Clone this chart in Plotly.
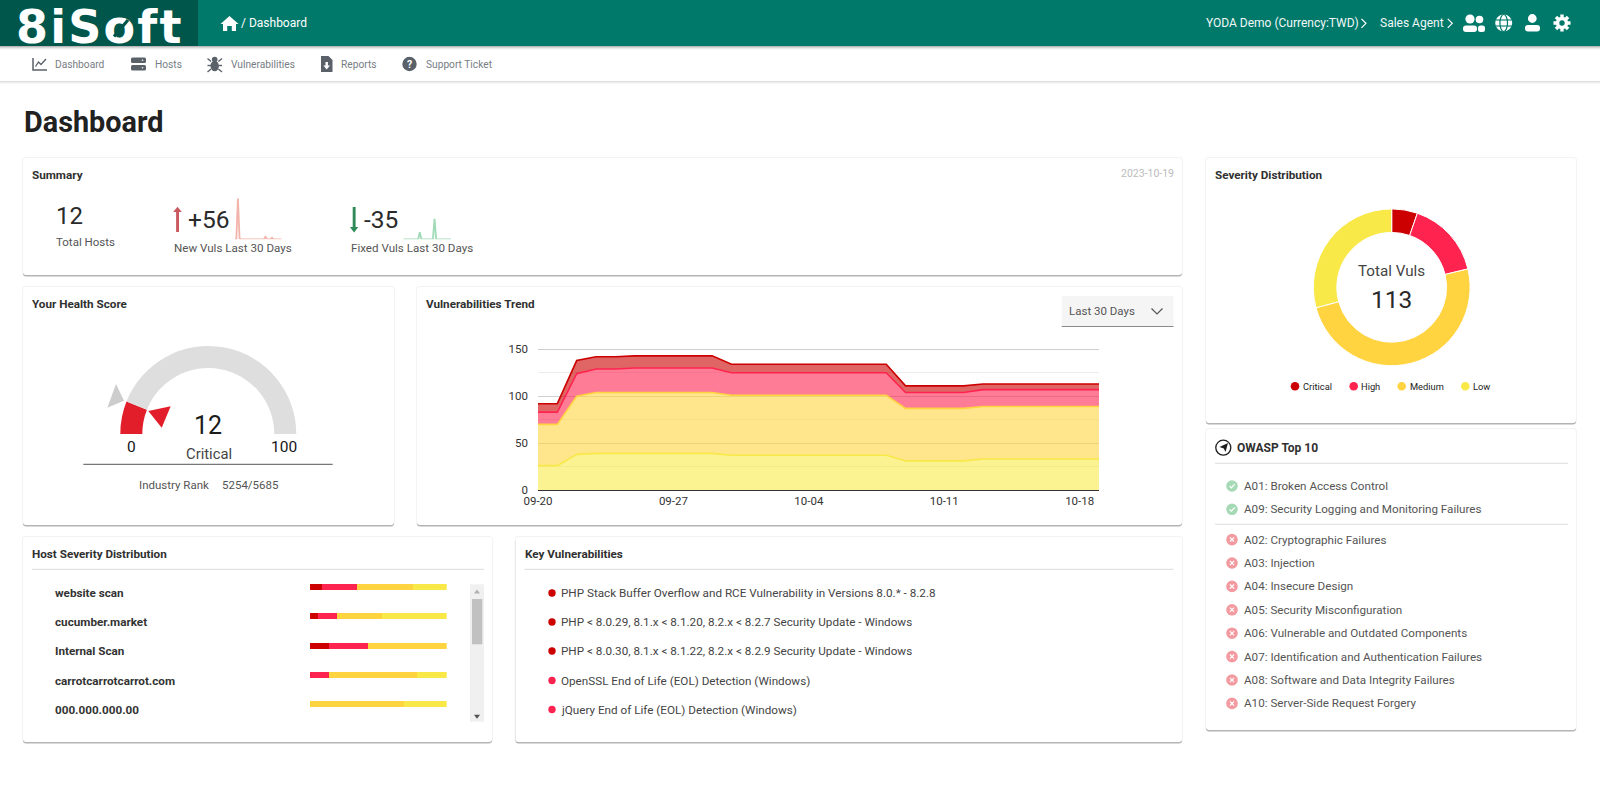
import math
import plotly.graph_objects as go

W, H = 1600, 803
FONT = "Roboto"

# ---------- data ----------
severities = ["Critical", "High", "Medium", "Low"]
sev_colors = ["#cc0000", "#ff2450", "#ffd440", "#f8e948"]
sev_fills = ["rgba(204,0,0,0.6)", "rgba(255,36,80,0.6)", "rgba(255,212,64,0.6)", "rgba(248,233,72,0.6)"]
sev_totals = [6, 18, 56, 33]

trend_dates = ["09-20","09-21","09-22","09-23","09-24","09-25","09-26","09-27","09-28","09-29",
               "09-30","10-01","10-02","10-03","10-04","10-05","10-06","10-07","10-08","10-09",
               "10-10","10-11","10-12","10-13","10-14","10-15","10-16","10-17","10-18","10-19"]
trend_ticks = ["09-20", "09-27", "10-04", "10-11", "10-18"]
trend_low = [26,26,38,39,39,39,39,39,39,39,37,37,37,37,37,37,37,37,37,31,31,31,31,33,33,33,33,33,33,33]
trend_medium = [44,44,62,65,65,65,65,65,65,65,64,64,64,64,64,64,64,64,64,56,56,56,56,56,56,56,56,56,56,56]
trend_high = [13,13,24,25,25,26,26,26,26,26,24,24,24,24,24,24,24,24,24,17,17,17,17,18,18,18,18,18,18,18]
trend_critical = [9,9,14,13,13,13,13,13,13,13,9,9,9,9,9,9,9,9,9,7,7,7,7,6,6,6,6,6,6,6]

spark_new = [0,0,50,1,0,0,0,0,0,0,0,0,0,0,0,0,0,0,0,3,0,0,0,2,0,0,0,0,0,0]
spark_fixed = [0,0,0,0,0,0,0,0,0,0,9,0,0,0,0,0,0,0,0,26,0,0,0,0,0,0,0,0,0,0]

hosts = ["website scan", "cucumber.market", "Internal Scan", "carrotcarrotcarrot.com", "000.000.000.00"]
host_critical = [8.5, 6, 14, 0, 0]
host_high = [26, 13.5, 28.5, 14, 0]
host_medium = [40.5, 33.5, 57.5, 64.5, 69]
host_low = [25, 47, 0, 21.5, 31]

gauge_score = 12
gauge_max = 100

key_vulns = ["PHP Stack Buffer Overflow and RCE Vulnerability in Versions 8.0.* - 8.2.8",
             "PHP < 8.0.29, 8.1.x < 8.1.20, 8.2.x < 8.2.7 Security Update - Windows",
             "PHP < 8.0.30, 8.1.x < 8.1.22, 8.2.x < 8.2.9 Security Update - Windows",
             "OpenSSL End of Life (EOL) Detection (Windows)",
             "jQuery End of Life (EOL) Detection (Windows)"]
key_sev = [0, 0, 0, 1, 1]

owasp_pass = ["A01: Broken Access Control", "A09: Security Logging and Monitoring Failures"]
owasp_fail = ["A02: Cryptographic Failures", "A03: Injection", "A04: Insecure Design",
              "A05: Security Misconfiguration", "A06: Vulnerable and Outdated Components",
              "A07: Identification and Authentication Failures", "A08: Software and Data Integrity Failures",
              "A10: Server-Side Request Forgery"]

# ---------- helpers ----------
shapes, annots = [], []

def text(x, y, s, size=12, color="#444", anchor="left", bold=False):
    annots.append(dict(x=x, y=y, xref="x", yref="y", text=f"<b>{s}</b>" if bold else s, showarrow=False,
                       xanchor=anchor, yanchor="middle", borderpad=0, borderwidth=0,
                       font=dict(family=FONT, size=size, color=color)))

def rect(x0, y0, x1, y1, fill):
    shapes.append(dict(type="rect", xref="x", yref="y", x0=x0, y0=y0, x1=x1, y1=y1,
                       fillcolor=fill, line=dict(width=0), layer="below"))

def circ(cx, cy, r, fill="rgba(0,0,0,0)", line=None, lw=0):
    shapes.append(dict(type="circle", xref="x", yref="y", x0=cx-r, y0=cy-r, x1=cx+r, y1=cy+r, fillcolor=fill,
                       line=dict(width=lw, color=line or fill), layer="below"))

def ell(cx, cy, rx, ry, fill="rgba(0,0,0,0)", line=None, lw=0):
    shapes.append(dict(type="circle", xref="x", yref="y", x0=cx-rx, y0=cy-ry, x1=cx+rx, y1=cy+ry, fillcolor=fill,
                       line=dict(width=lw, color=line or fill), layer="below"))

def poly(pts, fill):
    p = "M " + " L ".join(f"{a:.2f},{b:.2f}" for a, b in pts) + " Z"
    shapes.append(dict(type="path", xref="x", yref="y", path=p, fillcolor=fill, line=dict(width=0), layer="below"))

def pline(pts, color, lw=1):
    p = "M " + " L ".join(f"{a:.2f},{b:.2f}" for a, b in pts)
    shapes.append(dict(type="path", xref="x", yref="y", path=p, line=dict(width=lw, color=color), layer="below"))

def rpath(x0, y0, x1, y1, r):
    return (f"M {x0+r},{y0} L {x1-r},{y0} Q {x1},{y0} {x1},{y0+r} L {x1},{y1-r} Q {x1},{y1} {x1-r},{y1} "
            f"L {x0+r},{y1} Q {x0},{y1} {x0},{y1-r} L {x0},{y0+r} Q {x0},{y0} {x0+r},{y0} Z")

def rrect(x0, y0, x1, y1, r, fill):
    shapes.append(dict(type="path", xref="x", yref="y", path=rpath(x0, y0, x1, y1, r), fillcolor=fill,
                       line=dict(width=0), layer="below"))

def card(l, t, r, b):
    rrect(l-1, t-1, r+1, b+1, 4, "#f3f3f3")
    rrect(l, t+2, r, b+1.6, 3, "#b4b4b4")
    rrect(l, t, r, b, 3, "#ffffff")

def hline(x0, x1, y, color="#dddddd", lw=1):
    pline([(x0, y), (x1, y)], color, lw)

def chevron(cx, cy, s, color, lw=1.2):
    pline([(cx-s*0.5, cy-s), (cx+s*0.5, cy), (cx-s*0.5, cy+s)], color, lw)

# ---------- header ----------
TEAL, DTEAL = "#00796b", "#00564b"
for i, a in enumerate([0.28, 0.16, 0.08, 0.03]):
    rect(0, 46+i, W, 47+i, f"rgba(0,0,0,{a})")
for i, a in enumerate([0.13, 0.07, 0.03]):
    rect(0, 81+i, W, 82+i, f"rgba(0,0,0,{a})")
rect(0, 0, W, 46, TEAL)
rect(0, 0, 198, 46, DTEAL)
annots.append(dict(x=15, y=27.2, xref="x", yref="y",
                   text='<b><span style="letter-spacing:2.2px">8iSoft</span></b>', showarrow=False,
                   xanchor="left", yanchor="middle", borderpad=0,
                   font=dict(family="DejaVu Sans", size=46, color="#ffffff")))
# diagonal band across the "o" of the logo
annots.append(dict(x=128, y=20, ax=111, ay=40, xref="x", yref="y", axref="x", ayref="y", text=" ", showarrow=True,
                   arrowhead=0, arrowwidth=3.2, arrowcolor=DTEAL))

poly([(229.5,16),(238.5,24),(236,24),(236,31),(231.8,31),(231.8,26),(227.2,26),(227.2,31),(223,31),(223,24),(220.5,24)], "#fff")
text(241, 23, "/ Dashboard", 12, "#ffffff")
text(1206, 23.3, "YODA Demo (Currency:TWD)", 12, "#f2f8f7")
chevron(1363.7, 23.3, 4.5, "#fff")
text(1379.5, 23.3, "Sales Agent", 12, "#f2f8f7")
chevron(1450, 23.3, 4.5, "#fff")
# people
circ(1470, 19, 4.6, "#fff"); circ(1479.5, 19.5, 3.8, "#fff")
rrect(1463, 25.5, 1477, 32, 3, "#fff"); rrect(1478, 25.5, 1485, 32, 2.5, "#fff")
# globe
circ(1503.7, 23, 8.5, "#fff")
ell(1503.7, 23, 3.8, 8.5, "rgba(0,0,0,0)", TEAL, 1.2)
hline(1495, 1512.5, 20, TEAL, 1.1); hline(1495, 1512.5, 26, TEAL, 1.1)
# person
circ(1532.3, 18.5, 4.4, "#fff")
rrect(1525, 25, 1540, 31.5, 3, "#fff")
# gear
gear = []
for i in range(8):
    a = i * math.pi / 4 - math.pi / 2
    for d, rr in [(-0.27, 6.2), (-0.2, 8.7), (0.2, 8.7), (0.27, 6.2)]:
        gear.append((1562 + rr * math.cos(a + d), 23 + rr * math.sin(a + d)))
poly(gear, "#fff"); circ(1562, 23, 2.7, TEAL)

# ---------- sub navigation ----------
NAV, NAVT = "#5a6169", "#777d84"
text(55.3, 64, "Dashboard", 10.2, NAVT)
text(154.5, 64, "Hosts", 10.2, NAVT)
text(231, 64, "Vulnerabilities", 10.2, NAVT)
text(340.5, 64, "Reports", 10.2, NAVT)
text(426, 64, "Support Ticket", 10.2, NAVT)
pline([(33, 58), (33, 70), (47, 70)], NAV, 1.5)
pline([(35.5, 66.5), (38.5, 62), (41, 64.5), (46, 59)], NAV, 1.3)
rrect(131, 57.5, 146, 63, 1.5, NAV); rrect(131, 65, 146, 70.5, 1.5, NAV)
circ(142.5, 60.2, 0.8, "#fff"); circ(142.5, 67.7, 0.8, "#fff")
# bug
ell(214.7, 66, 4.2, 5.2, NAV); circ(214.7, 59.5, 2.8, NAV)
for yy, dy_ in [(61.5, -3), (65.5, 0), (69, 3)]:
    pline([(211, yy), (207.5, yy + dy_)], NAV, 1.4); pline([(218.4, yy), (222, yy + dy_)], NAV, 1.4)
# report
poly([(321, 56), (328.5, 56), (332.5, 60), (332.5, 72), (321, 72)], NAV)
poly([(325.5, 62), (327.9, 62), (327.9, 65.5), (330, 65.5), (326.7, 69.5), (323.4, 65.5), (325.5, 65.5)], "#fff")
circ(409.5, 64, 7.2, NAV)
text(409.5, 64, "?", 10.5, "#ffffff", "center", True)

text(23.7, 122, "Dashboard", 28.8, "#212121", bold=True)

# ---------- cards ----------
for c in [(23, 158, 1182, 275), (23, 287, 394, 525), (417, 287, 1182, 525), (23, 537, 492, 742),
          (515.5, 537, 1182, 742), (1206, 158, 1576, 423), (1206, 429, 1576, 730)]:
    card(*c)

# summary
text(32, 175, "Summary", 11.7, "#303030", bold=True)
text(1173.5, 173.5, "2023-10-19", 10.5, "#bcbcbc", "right")
text(55.5, 216, "12", 24, "#2a2a2a")
text(56, 242, "Total Hosts", 11.5, "#555")
text(187.5, 219, "+56", 24.5, "#2a2a2a")
text(174, 248, "New Vuls Last 30 Days", 11.6, "#555")
text(364, 219, "-35", 24.5, "#2a2a2a")
text(350.5, 248, "Fixed Vuls Last 30 Days", 11.6, "#555")
rect(176.1, 211, 179, 232, "#c9595e")
poly([(177.5, 206.7), (181.8, 212), (173.2, 212)], "#c9595e")
rect(352.7, 207, 355.6, 228, "#2e8b57")
poly([(354.1, 232.5), (349.9, 227), (358.3, 227)], "#2e8b57")

# health
text(32, 304, "Your Health Score", 11.7, "#303030", bold=True)
poly([(116, 384), (107.3, 407.7), (124, 400.7)], "#cdcdcd")
poly([(170.7, 406.3), (148.3, 411), (161.7, 427.7)], "#e21e2a")
text(208.3, 425.7, "12", 25, "#1c1c1c", "center")
text(208.7, 453.5, "Critical", 14.8, "#444", "center")
text(131, 446.7, "0", 15.5, "#151515", "center")
text(284, 446.7, "100", 15.5, "#151515", "center")
hline(83.3, 332.7, 464.3, "#555555", 1)
text(139.3, 485, "Industry Rank", 11.5, "#555")
text(221.7, 485, "5254/5685", 11.5, "#555")

# trend
text(425.8, 304, "Vulnerabilities Trend", 11.7, "#303030", bold=True)
rect(1061.7, 296, 1173.5, 326.5, "#f5f5f5")
hline(1061.7, 1173.5, 326.5, "#8a8a8a", 1)
text(1068.5, 311, "Last 30 Days", 11.5, "#555")
pline([(1151.5, 308.5), (1157, 314), (1162.5, 308.5)], "#555", 1.2)
# the axis drops its grid line at the top of the range, so it is drawn on the page layer
hline(538, 1099, 349.5, "#cfcfcf", 1)

# severity donut texts
text(1215, 175, "Severity Distribution", 11.7, "#303030", bold=True)
text(1391.7, 270.7, "Total Vuls", 15.2, "#444", "center")
text(1391.7, 299, "113", 24.5, "#2a2a2a", "center")
for cx, tx, s, col in zip([1295, 1353.7, 1401.7, 1465.3], [1303, 1361.2, 1409.5, 1473], severities, sev_colors):
    circ(cx, 386.3, 4.3, col)
    text(tx, 386.3, s, 9.3, "#222")

# host list
text(32, 554.3, "Host Severity Distribution", 11.7, "#303030", bold=True)
hline(32, 484, 569.3)
for name, yy in zip(hosts, [592.7, 622, 651, 680.5, 709.5]):
    text(55.2, yy, name, 11.7, "#333", bold=True)
rect(470, 584.3, 484, 721.7, "#f0f0f0")
rect(472, 599, 482.3, 644.3, "#c1c1c1")
poly([(477, 589.5), (480, 593.5), (474, 593.5)], "#b0b0b0")
poly([(477, 718.7), (480, 714.7), (474, 714.7)], "#505050")

# key vulnerabilities
text(524.5, 554.3, "Key Vulnerabilities", 11.7, "#303030", bold=True)
hline(524.5, 1173.5, 569.3)
for name, s, yy in zip(key_vulns, key_sev, [593, 622, 651, 680.5, 709.5]):
    circ(552, yy, 3.7, sev_colors[s])
    text(561, yy, name.replace("<", "&lt;"), 11.7, "#444")

# owasp
circ(1223.3, 447.7, 7.5, "#fff", "#1d1d1d", 1.3)
poly([(1228, 443), (1225.5, 452), (1223.8, 448.4), (1219.5, 447)], "#1d1d1d")
text(1236.7, 447.7, "OWASP Top 10", 12, "#303030", bold=True)
hline(1215, 1568, 463.3)
hline(1215, 1568, 524.3)
for name, yy in zip(owasp_pass, [486, 509.3]):
    circ(1232, yy, 5.8, "#a6d9b5")
    pline([(1229.5, yy), (1231.4, yy+1.9), (1234.7, yy-1.8)], "#fff", 1.2)
    text(1244, yy, name, 11.65, "#555")
for name, yy in zip(owasp_fail, [539.6, 563, 586.4, 609.8, 633.2, 656.6, 680, 703.4]):
    circ(1232, yy, 5.8, "#f29aa0")
    pline([(1229.9, yy-2.1), (1234.1, yy+2.1)], "#fff", 1.2)
    pline([(1234.1, yy-2.1), (1229.9, yy+2.1)], "#fff", 1.2)
    text(1244, yy, name, 11.65, "#555")

# ---------- figure ----------
def dx(a, b):
    return [a / W, b / W]

def dy(top, bottom):
    return [1 - bottom / H, 1 - top / H]

fig = go.Figure()

# page overlay axis: one unit = one pixel
fig.add_trace(go.Scatter(x=[0], y=[0], mode="markers", marker=dict(opacity=0), hoverinfo="skip", showlegend=False))

# trend stack
for vals, col, fill, nm in [(trend_low, sev_colors[3], sev_fills[3], "Low"),
                            (trend_medium, sev_colors[2], sev_fills[2], "Medium"),
                            (trend_high, sev_colors[1], sev_fills[1], "High"),
                            (trend_critical, sev_colors[0], sev_fills[0], "Critical")]:
    fig.add_trace(go.Scatter(x=trend_dates, y=vals, name=nm, mode="lines", stackgroup="one", xaxis="x2", yaxis="y2",
                             line=dict(color=col, width=1.6), fillcolor=fill, showlegend=False, hoverinfo="skip"))

# sparklines
fig.add_trace(go.Scatter(y=spark_new, mode="lines", xaxis="x3", yaxis="y3", line=dict(color="#f2b3aa", width=1.8),
                         showlegend=False, hoverinfo="skip", cliponaxis=False))
fig.add_trace(go.Scatter(y=spark_fixed, mode="lines", xaxis="x4", yaxis="y4", line=dict(color="#9fdab6", width=1.8),
                         showlegend=False, hoverinfo="skip", cliponaxis=False))

# host bars
for vals, col, nm in zip([host_critical, host_high, host_medium, host_low], sev_colors, severities):
    fig.add_trace(go.Bar(y=hosts, x=vals, name=nm, orientation="h", xaxis="x5", yaxis="y5", marker=dict(color=col, line=dict(width=0)),
                         showlegend=False, hoverinfo="skip"))

# gauge: a pie whose lower half is transparent
gr = 88
fig.add_trace(go.Pie(values=[gauge_score, gauge_max - gauge_score, gauge_max], sort=False, direction="clockwise", rotation=270,
                     hole=0.75, textinfo="none", hoverinfo="skip", showlegend=False,
                     marker=dict(colors=["#e21e2a", "#dedede", "rgba(0,0,0,0)"], line=dict(width=0)),
                     domain=dict(x=dx(208.3-gr, 208.3+gr), y=dy(434-gr, 434+gr))))

# severity donut
dr = 78.4
fig.add_trace(go.Pie(labels=severities, values=sev_totals, sort=False, direction="clockwise", rotation=0, hole=0.70,
                     textinfo="none", hoverinfo="skip", showlegend=False,
                     marker=dict(colors=sev_colors, line=dict(color="#ffffff", width=1)),
                     domain=dict(x=dx(1391.7-dr, 1391.7+dr), y=dy(287.3-dr, 287.3+dr))))

hidden = dict(visible=False, fixedrange=True)
fig.update_layout(
    width=W, height=H, autosize=False, margin=dict(l=0, r=0, t=0, b=0, pad=0, autoexpand=False),
    paper_bgcolor="#ffffff", plot_bgcolor="rgba(0,0,0,0)", barmode="stack", bargap=0.795, showlegend=False,
    font=dict(family=FONT), hovermode=False,
    xaxis=dict(domain=[0, 1], range=[0, W], **hidden),
    yaxis=dict(domain=[0, 1], range=[H, 0], **hidden),
    xaxis2=dict(domain=dx(538, 1099), anchor="y2", type="category", categoryorder="array", categoryarray=trend_dates,
                range=[0, 29], tickmode="array", tickvals=trend_ticks, ticktext=trend_ticks, showgrid=False,
                showline=True, linecolor="#333333", linewidth=1, ticks="", tickfont=dict(family=FONT, size=11.5, color="#333"),
                fixedrange=True, automargin=False),
    yaxis2=dict(domain=dy(349.3, 490), anchor="x2", range=[0, 150], tickmode="array", tickvals=[0, 50, 100, 150],
                showgrid=True, gridcolor="#d0d0d0", gridwidth=1, zeroline=False, ticks="", ticklabelstandoff=9,
                minor=dict(tickvals=[25, 75, 125], showgrid=True, gridcolor="#ececec", gridwidth=1),
                tickfont=dict(family=FONT, size=11.5, color="#333"), fixedrange=True, automargin=False),
    xaxis3=dict(domain=dx(234.7, 281.7), anchor="y3", range=[0, 29], **hidden),
    yaxis3=dict(domain=dy(198.3, 239.3), anchor="x3", range=[0, max(spark_new)], **hidden),
    xaxis4=dict(domain=dx(403.3, 451), anchor="y4", range=[0, 29], **hidden),
    yaxis4=dict(domain=dy(218.5, 239.3), anchor="x4", range=[0, max(spark_fixed)], **hidden),
    xaxis5=dict(domain=dx(310, 446.7), anchor="y5", range=[0, 100], **hidden),
    yaxis5=dict(domain=dy(572.7, 718.6), anchor="x5", type="category", categoryorder="array", categoryarray=hosts,
                autorange="reversed", **hidden),
    shapes=shapes, annotations=annots,
)

fig.write_html("out.html", config=dict(displayModeBar=False, staticPlot=True),
               post_script="document.body.style.margin='0';document.body.style.overflow='hidden';")
